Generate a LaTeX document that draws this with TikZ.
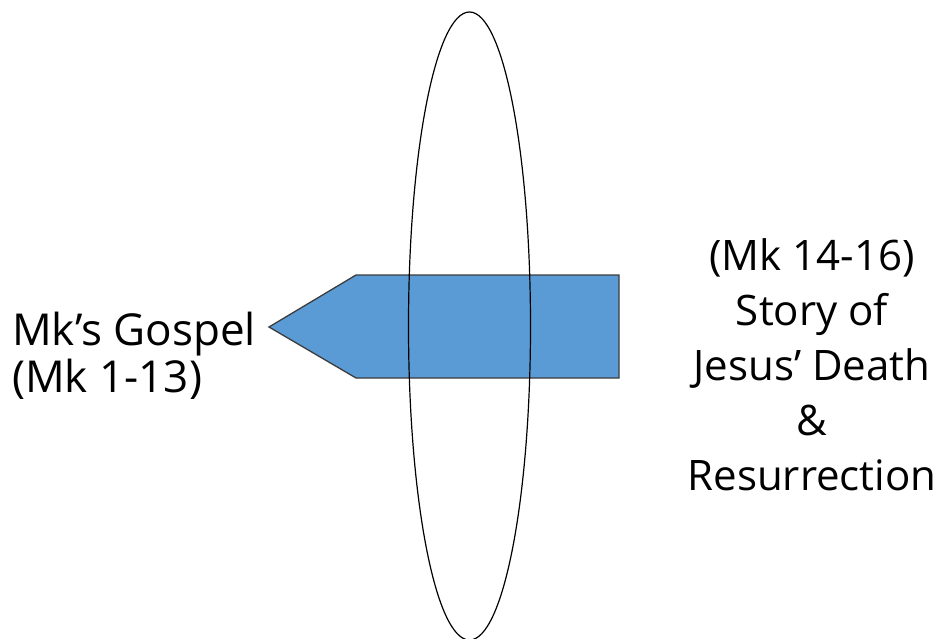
\documentclass[tikz,border=0pt]{standalone}
\usepackage{fontspec}
\setmainfont{Open Sans}
\usepackage{xcolor}
\definecolor{arrowblue}{RGB}{91,155,213}
\definecolor{arrowedge}{RGB}{60,60,60}
\tikzset{
  label text/.style={inner sep=0pt, font=\fontsize{42}{55}\selectfont},
}
\begin{document}
\begin{tikzpicture}[x=1pt, y=-1pt]
  \useasboundingbox (0,0) rectangle (942,639);
  % pointer shape
  \coordinate (tip) at (269,327);
  \coordinate (ntop) at (356,275);
  \coordinate (ebot) at (356,378);
  \fill[arrowblue] (tip) -- (ntop) -- (619,275) -- (619,378) -- (ebot) -- cycle;
  \draw[arrowedge, line width=1.3pt, line join=miter] (tip) -- (ntop) -- (619,275) -- (619,378) -- (ebot) -- cycle;
  % the ring
  \draw[black, line width=1.2pt] (469.5,326) ellipse [x radius=61pt, y radius=314pt];
  % labels (base = last line)
  \node[label text, align=left, anchor=base west,
        font=\fontsize{44}{47}\selectfont] (before) at (12,392)
    {Mk’s Gospel\\(Mk 1-13)};
  \node[label text, align=center, anchor=base] (after) at (812,490)
    {(Mk 14-16)\\Story of\\Jesus’ Death\\\&\\Resurrection};
\end{tikzpicture}
\end{document}
